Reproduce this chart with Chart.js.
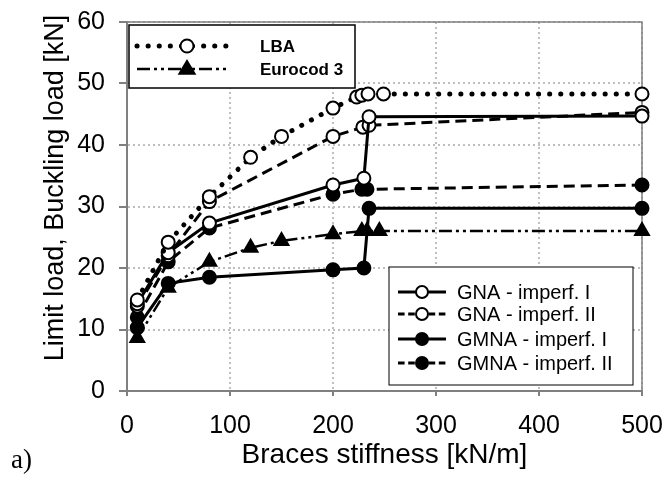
<!DOCTYPE html>
<html>
<head>
<meta charset="utf-8">
<script src="https://cdn.jsdelivr.net/npm/chart.js@4.4.1/dist/chart.umd.min.js"></script>
<style>
  body { margin: 0; background: #fff; }
  #wrap { width: 663px; height: 482px; }
</style>
</head>
<body>
<div id="wrap"><canvas id="chart" width="663" height="482"></canvas></div>
<script>
// data (x = braces stiffness kN/m, y = load kN)
var lbaX = [10, 40, 80, 120, 150, 200, 223, 228, 234, 249, 500];
var lbaY = [14.8, 24.2, 31.6, 38.0, 41.4, 46.0, 47.8, 48.1, 48.3, 48.3, 48.3];

var ecX = [10, 40, 80, 120, 150, 200, 228, 233, 245, 500];
var ecY = [8.6, 16.8, 21.0, 23.3, 24.4, 25.5, 26.0, 26.0, 26.0, 26.0];

var gna1X = [10, 40, 80, 200, 230, 235, 500];
var gna1Y = [14.2, 22.5, 27.3, 33.5, 34.6, 44.6, 44.7];

var gna2X = [10, 40, 80, 200, 229, 235, 500];
var gna2Y = [13.8, 22.0, 30.8, 41.4, 42.9, 43.2, 45.3];

var gmna1X = [10, 40, 80, 200, 230, 235, 500];
var gmna1Y = [10.3, 17.5, 18.5, 19.7, 20.0, 29.7, 29.7];

var gmna2X = [10, 40, 80, 200, 228, 233, 500];
var gmna2Y = [12.0, 21.0, 26.5, 32.0, 32.8, 32.8, 33.5];

var xTicks = [0, 100, 200, 300, 400, 500];
var yTicks = [0, 10, 20, 30, 40, 50, 60];

function pts(xs, ys) {
    return xs.map(function (x, i) { return { x: x, y: ys[i] }; });
}

function series(label, xs, ys, dash, width, cap, style, fill, r) {
    return {
        label: label,
        data: pts(xs, ys),
        showLine: true,
        borderColor: '#000',
        borderWidth: width,
        borderDash: dash,
        borderCapStyle: cap,
        pointStyle: style,
        pointRadius: r,
        pointBackgroundColor: fill,
        pointBorderColor: '#000',
        pointBorderWidth: 2,
        tension: 0,
        clip: false
    };
}

var datasets = [
    series('LBA', lbaX, lbaY, [0.1, 11], 5, 'round', 'circle', '#fff', 6.5),
    series('Eurocod 3', ecX, ecY, [13, 4, 3, 4, 3, 4], 2.5, 'butt', 'triangle', '#000', 8),
    series('GNA - imperf. I', gna1X, gna1Y, [], 3, 'butt', 'circle', '#fff', 6.5),
    series('GNA - imperf. II', gna2X, gna2Y, [11, 6], 3, 'butt', 'circle', '#fff', 6.5),
    series('GMNA - imperf. I', gmna1X, gmna1Y, [], 3, 'butt', 'circle', '#000', 6.5),
    series('GMNA - imperf. II', gmna2X, gmna2Y, [11, 6], 3, 'butt', 'circle', '#000', 6.5)
];

// the two boxed legends inside the plot
var legendBoxes = [
    { x: 129, y: 25, w: 226, h: 63, lineW: 1.5, rows: [0, 1], rowY: [46, 69],
      x1: 137, x2: 230, mx: 187, tx: 260, font: 'bold 17px "Liberation Sans", Arial', mr: 6.5, dashScale: 1 },
    { x: 389, y: 267, w: 244, h: 118, lineW: 1, rows: [2, 3, 4, 5], rowY: [292, 314, 339, 363],
      x1: 398, x2: 446, mx: 422, tx: 457, font: '20px "Liberation Sans", Arial', mr: 6, dashScale: 0.6 }
];

function marker(ctx, style, x, y, r, fill) {
    ctx.beginPath();
    if (style === 'triangle') {
        ctx.moveTo(x, y - r);
        ctx.lineTo(x + r * 0.95, y + r * 0.6);
        ctx.lineTo(x - r * 0.95, y + r * 0.6);
        ctx.closePath();
    } else {
        ctx.arc(x, y, r, 0, Math.PI * 2);
    }
    ctx.fillStyle = fill;
    ctx.fill();
    ctx.lineWidth = 2;
    ctx.strokeStyle = '#000';
    ctx.stroke();
}

var extras = {
    id: 'extras',
    beforeDatasetsDraw: function (chart) {
        var ctx = chart.ctx, a = chart.chartArea;
        ctx.save();
        ctx.strokeStyle = '#808080';
        ctx.lineWidth = 1.5;
        ctx.beginPath();
        ctx.moveTo(a.left, a.top);
        ctx.lineTo(a.right, a.top);
        ctx.lineTo(a.right, a.bottom);
        ctx.stroke();
        ctx.restore();
    },
    afterDraw: function (chart) {
        var ctx = chart.ctx;
        ctx.save();
        // y axis title
        ctx.translate(56, 188);
        ctx.rotate(-Math.PI / 2);
        ctx.fillStyle = '#000';
        ctx.font = '27px "Liberation Sans", Arial';
        ctx.textAlign = 'center';
        ctx.textBaseline = 'middle';
        ctx.fillText('Limit load, Buckling load [kN]', 0, 0);
        ctx.restore();

        ctx.save();
        ctx.fillStyle = '#000';
        ctx.font = '27px "Liberation Serif", "Times New Roman"';
        ctx.textAlign = 'left';
        ctx.textBaseline = 'alphabetic';
        ctx.fillText('a)', 11, 468);
        ctx.restore();

        legendBoxes.forEach(function (b) {
            ctx.save();
            ctx.fillStyle = '#fff';
            ctx.fillRect(b.x, b.y, b.w, b.h);
            ctx.strokeStyle = '#000';
            ctx.lineWidth = b.lineW;
            ctx.strokeRect(b.x, b.y, b.w, b.h);
            b.rows.forEach(function (di, k) {
                var ds = chart.data.datasets[di];
                var y = b.rowY[k];
                ctx.strokeStyle = '#000';
                ctx.lineWidth = ds.borderWidth;
                ctx.lineCap = ds.borderCapStyle;
                var dash = ds.borderDash.map(function (v) { return v < 1 ? v : v * b.dashScale; });
                ctx.setLineDash(dash);
                ctx.beginPath();
                ctx.moveTo(b.x1, y);
                ctx.lineTo(b.x2, y);
                ctx.stroke();
                ctx.setLineDash([]);
                ctx.lineCap = 'butt';
                marker(ctx, ds.pointStyle, b.mx, y, ds.pointStyle === 'triangle' ? 8 : b.mr, ds.pointBackgroundColor);
                ctx.fillStyle = '#000';
                ctx.font = b.font;
                ctx.textAlign = 'left';
                ctx.textBaseline = 'middle';
                ctx.fillText(ds.label, b.tx, y + 1);
            });
            ctx.restore();
        });
    }
};

new Chart(document.getElementById('chart'), {
    type: 'scatter',
    data: { datasets: datasets },
    plugins: [extras],
    options: {
        responsive: false,
        animation: false,
        devicePixelRatio: 1,
        layout: { padding: { left: 0, right: 21, top: 22, bottom: 0 } },
        plugins: { legend: { display: false }, tooltip: { enabled: false } },
        scales: {
            x: {
                type: 'linear',
                min: xTicks[0],
                max: xTicks[xTicks.length - 1],
                afterBuildTicks: function (s) { s.ticks = xTicks.map(function (v) { return { value: v }; }); },
                afterFit: function (s) { s.height = 91; s.paddingLeft = 0; s.paddingRight = 0; },
                ticks: { color: '#000', font: { family: '"Liberation Sans", Arial', size: 25 }, padding: 15, maxRotation: 0 },
                grid: { color: '#bfbfbf', lineWidth: 2, tickLength: 5, tickColor: '#808080', tickWidth: 2, tickBorderDash: [] },
                border: { color: '#808080', width: 2, dash: [2, 3] },
                title: { display: true, text: 'Braces stiffness [kN/m]', color: '#000',
                         font: { family: '"Liberation Sans", Arial', size: 28 }, padding: { top: 0, bottom: 10 } }
            },
            y: {
                min: yTicks[0],
                max: yTicks[yTicks.length - 1],
                afterBuildTicks: function (s) { s.ticks = yTicks.map(function (v) { return { value: v }; }); },
                afterFit: function (s) { s.width = 127; s.paddingTop = 0; s.paddingBottom = 0; },
                ticks: { color: '#000', font: { family: '"Liberation Sans", Arial', size: 25 }, padding: 14 },
                grid: { color: '#bfbfbf', lineWidth: 2, tickLength: 8, tickColor: '#808080', tickWidth: 2, tickBorderDash: [] },
                border: { color: '#808080', width: 2, dash: [2, 3] }
            }
        }
    }
});
</script>
</body>
</html>
